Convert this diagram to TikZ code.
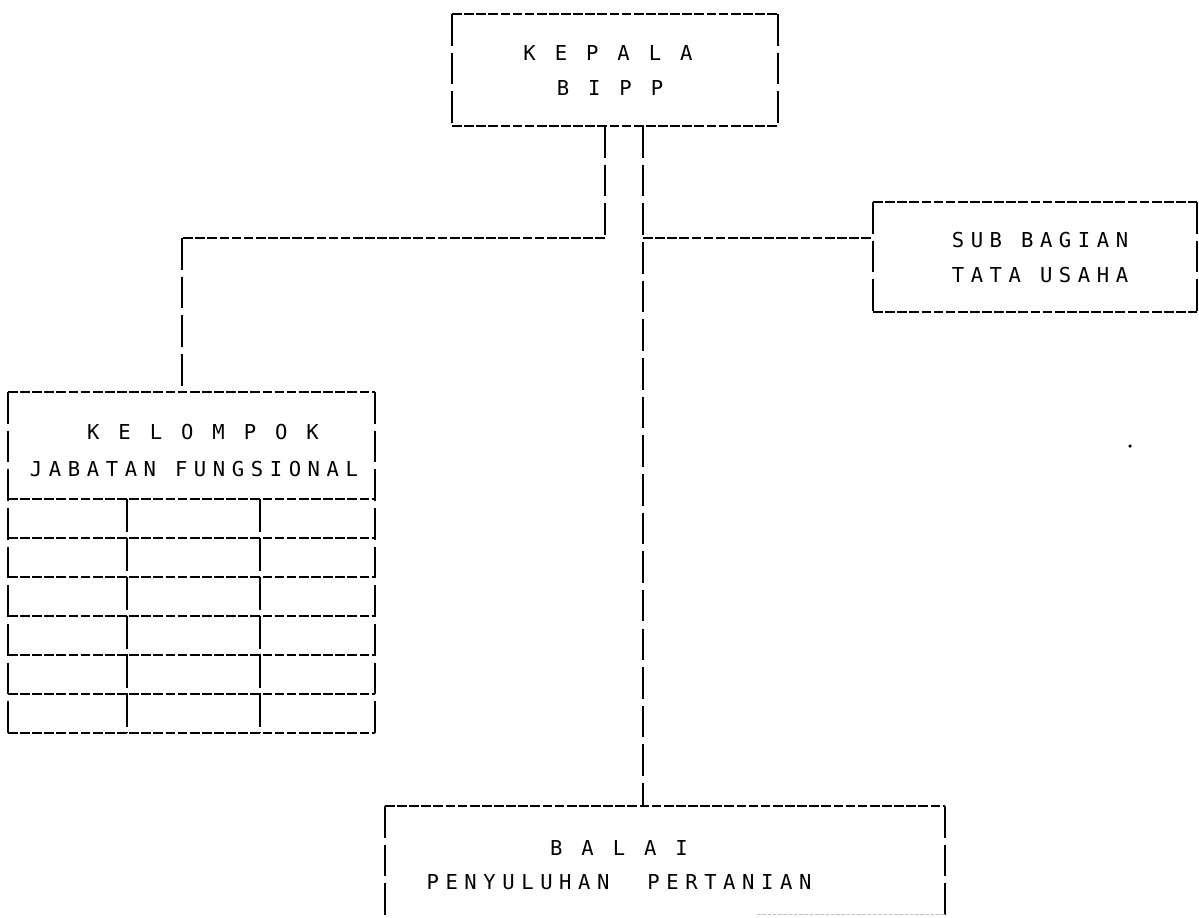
\documentclass[tikz,border=0pt]{standalone}
\usepackage{fontspec}
\newfontfamily\dotmatrix[LetterSpace=32]{DejaVu Sans Mono}
\usetikzlibrary{fit}
\usetikzlibrary{calc}

\tikzset{
  hline/.style={line width=0.75pt, dash pattern=on 5.5pt off 1.4pt},
  vline/.style={line width=1.1pt, dash pattern=on 18pt off 4pt},
  boxnode/.style={inner sep=0pt, outer sep=0pt},
  lbl/.style={font=\dotmatrix\fontsize{11.7}{14}\selectfont, inner sep=0pt},
}

% dot-matrix style frame: fine dashes across, long dashes down
\newcommand{\dmframe}[1]{%
  \draw[hline] (#1.north west) -- (#1.north east) (#1.south west) -- (#1.south east);
  \draw[vline] (#1.north west) -- (#1.south west) (#1.north east) -- (#1.south east);}

\begin{document}
\begin{tikzpicture}[x=0.02cm, y=-0.02cm]
  \useasboundingbox (0,0) rectangle (1199,917);

  \node[boxnode, fit={(452,14) (778,126)}] (kepala) {};
  \node[boxnode, fit={(873,202) (1197,312)}] (tatausaha) {};
  \node[boxnode, fit={(8,392) (375,733)}] (kelompok) {};
  \node[boxnode, fit={(385,806) (945,935)}] (balai) {};

  \foreach \b in {kepala,tatausaha,kelompok,balai} {\dmframe{\b}}

  \node[lbl] (kepala1) at (608,53) {K E P A L A};
  \node[lbl] (kepala2) at (610,88) {B I P P};
  \node[lbl] (tu1) at (1040,240) {SUB BAGIAN};
  \node[lbl] (tu2) at (1040,275) {TATA USAHA};
  \node[lbl] (jf1) at (203,432) {K E L O M P O K};
  \node[lbl] (jf2) at (194,469) {JABATAN FUNGSIONAL};
  \node[lbl] (balai1) at (619,848) {B A L A I};
  \node[lbl] (balai2) at (619,882) {PENYULUHAN\ \ PERTANIAN};

  % table of the functional group
  \foreach \k in {0,...,5}
    \draw[hline] ($(kelompok.north west)+(0,107+39*\k)$) -- ($(kelompok.north east)+(0,107+39*\k)$);
  \foreach \xx in {127,260}
    \draw[vline, dash pattern=on 19pt off 3.1pt] (\xx,499) -- (\xx,733);

  % connectors
  \coordinate (jl) at (605,238);
  \coordinate (jr) at (643,238);
  \coordinate (kl) at (182,238);
  \draw[vline] (kepala.south -| jl) -- (jl);
  \draw[hline] (jl) -- (kl);
  \draw[vline] (kl) -- (kl |- kelompok.north);
  \draw[vline] (kepala.south -| jr) -- (jr |- balai.north);
  \draw[hline] (jr) -- (jr -| tatausaha.west);

  \draw[black!25, line width=0.5pt, dash pattern=on 2pt off 1pt] (757,914) -- (945,914);
  \fill (1130,446) circle (1pt);
\end{tikzpicture}
\end{document}
